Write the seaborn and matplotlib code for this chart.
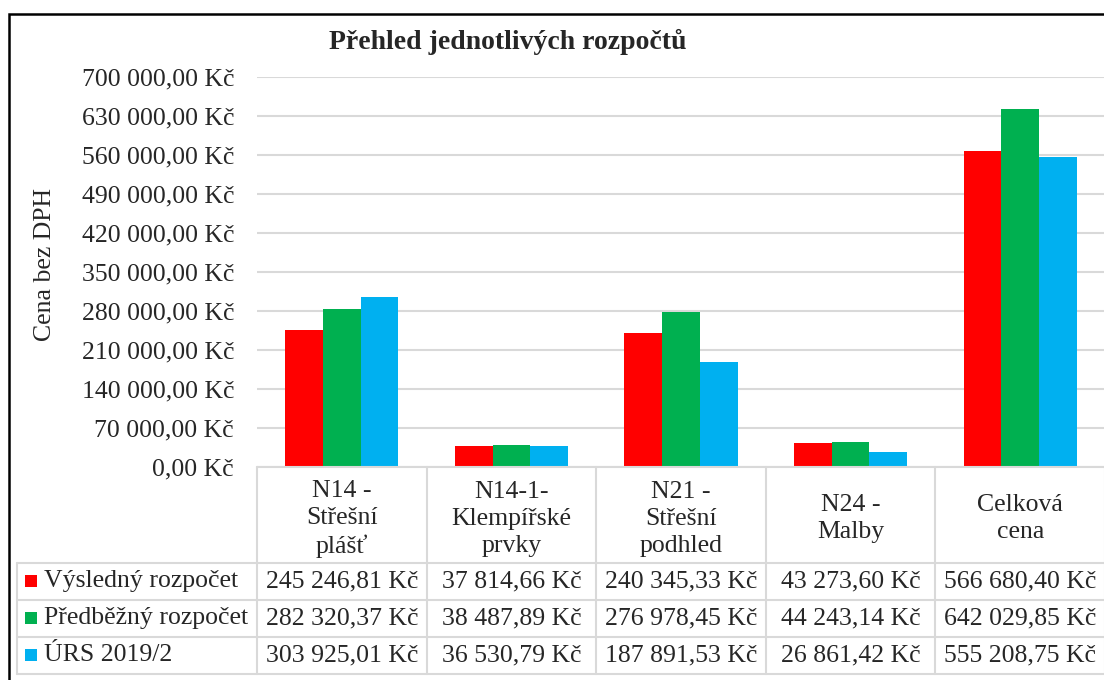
import numpy as np
import pandas as pd
import matplotlib
matplotlib.use('Agg')
import matplotlib.pyplot as plt
import seaborn as sns
from matplotlib.lines import Line2D
from matplotlib.patches import Rectangle
from matplotlib.ticker import FuncFormatter

categories = ['N14 -\nStřešní\nplášť', 'N14-1-\nKlempířské\nprvky', 'N21 -\nStřešní\npodhled',
              'N24 -\nMalby', 'Celková\ncena']
series = ['Výsledný rozpočet', 'Předběžný rozpočet', 'ÚRS 2019/2']
vysledny = [245246.81, 37814.66, 240345.33, 43273.60, 566680.40]
predbezny = [282320.37, 38487.89, 276978.45, 44243.14, 642029.85]
urs = [303925.01, 36530.79, 187891.53, 26861.42, 555208.75]
colors = ['#FF0000', '#00B050', '#00B0F0']

df = pd.DataFrame({
    'kat': categories * 3,
    'serie': [s for s in series for _ in categories],
    'cena': vysledny + predbezny + urs,
})

def kc(v, pos=None):
    s = f'{v:,.2f}'.replace(',', ' ').replace('.', ',')
    return s + ' Kč'

sns.set_style('white')
plt.rcParams['font.family'] = ['Liberation Serif', 'DejaVu Serif']
fs = 18.5

W, H = 1104, 680
fig = plt.figure(figsize=(W / 100, H / 100), dpi=100)

def fx(px):
    return px / W

def fy(py):
    return 1 - py / H

ax_l, ax_r, ax_t, ax_b = 257, 1105, 76.7, 466.7
ax = fig.add_axes([fx(ax_l), fy(ax_b), fx(ax_r - ax_l), (ax_b - ax_t) / H])

sns.barplot(data=df, x='kat', y='cena', hue='serie', palette=colors, width=0.667,
            gap=0, linewidth=0, saturation=1, ax=ax, legend=False)
ax.set_xlim(-0.5, 4.5)
ax.set_ylim(0, 700000)
ax.set_yticks(np.arange(0, 700001, 70000))
ax.yaxis.set_major_formatter(FuncFormatter(kc))
ax.tick_params(axis='y', length=0, pad=16.5, labelsize=fs)
ax.set_xticks([])
ax.set_xlabel('')
ax.set_ylabel('')
ax.grid(axis='y', color='#D9D9D9', linewidth=1.5)
ax.set_axisbelow(True)
for sp in ax.spines.values():
    sp.set_visible(False)

fig.text(fx(45), fy(265), 'Cena bez DPH', rotation=90, ha='center', va='center', fontsize=fs)
fig.text(fx(508), fy(42), 'Přehled jednotlivých rozpočtů', ha='center', va='center',
         fontsize=20, fontweight='bold')

# data table below the axis
grid_c = '#D9D9D9'
col_edges = [ax.transData.transform((i - 0.5, 0))[0] for i in range(len(categories) + 1)]
row_edges = [466.7, 562.5, 599.5, 636.5, 673.5]
tab_left = 17

def hline(y, x0, x1):
    fig.add_artist(Line2D([fx(x0), fx(x1)], [fy(y), fy(y)], color=grid_c, lw=1.5))

def vline(x, y0, y1):
    fig.add_artist(Line2D([fx(x), fx(x)], [fy(y0), fy(y1)], color=grid_c, lw=1.5))

hline(row_edges[0], col_edges[0], W + 5)
for y in row_edges[1:]:
    hline(y, tab_left, W + 5)
for x in col_edges:
    vline(x, row_edges[0], row_edges[-1])
vline(tab_left, row_edges[1], row_edges[-1])

for i, cat in enumerate(categories):
    cx = (col_edges[i] + col_edges[i + 1]) / 2
    fig.text(fx(cx), fy((row_edges[0] + row_edges[1]) / 2 + 4), cat, ha='center', va='center',
             fontsize=fs, linespacing=1.3)

for r, (name, vals, c) in enumerate(zip(series, [vysledny, predbezny, urs], colors)):
    cy = (row_edges[r + 1] + row_edges[r + 2]) / 2
    fig.add_artist(Rectangle((fx(25), fy(cy + 6)), fx(12), 12 / H, color=c, lw=0))
    fig.text(fx(44), fy(cy), name, ha='left', va='center', fontsize=fs)
    for i, v in enumerate(vals):
        cx = (col_edges[i] + col_edges[i + 1]) / 2
        fig.text(fx(cx), fy(cy), kc(v), ha='center', va='center', fontsize=fs)

# outer chart frame (cropped on the right and bottom)
fig.add_artist(Rectangle((fx(9), fy(H + 20)), fx(W), (H + 20 - 14) / H, fill=False,
                         edgecolor='black', lw=1.8))

fig.savefig('out.png', dpi=100)
